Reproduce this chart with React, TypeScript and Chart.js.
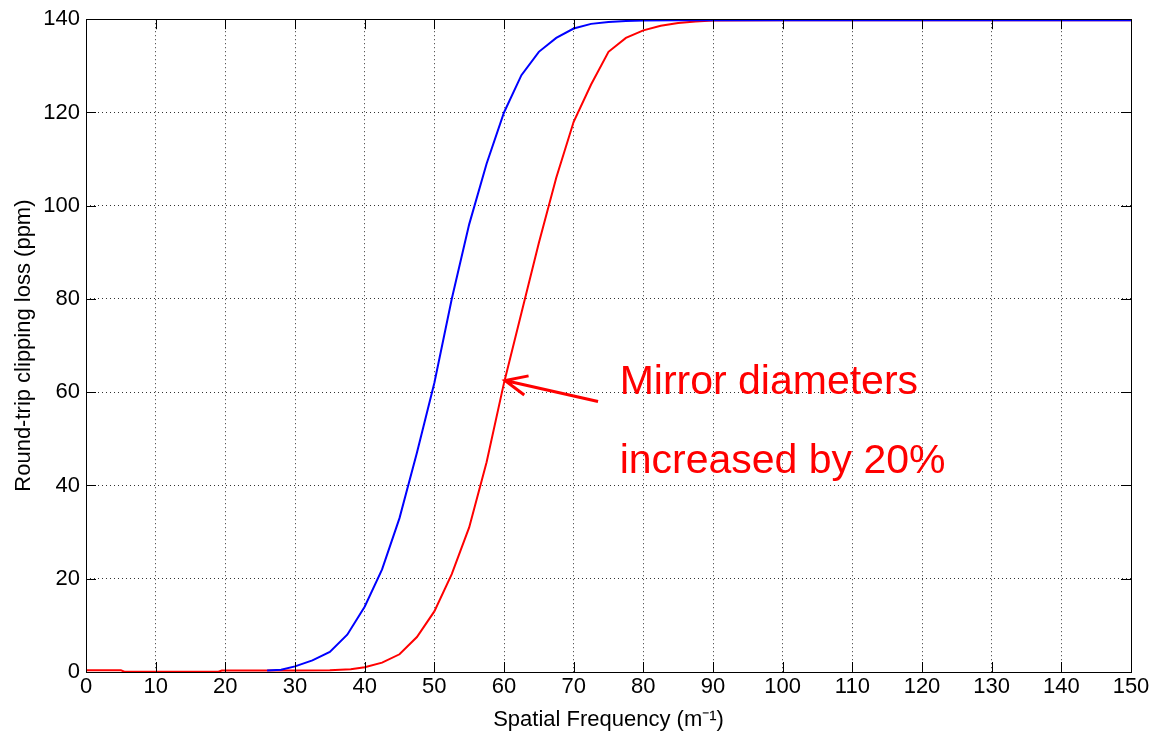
import React, { useEffect, useRef } from "react";
import { Chart, registerables } from "chart.js";

Chart.register(...registerables);

// Blue curve (original mirror diameters)
const blueX = [26, 28, 30, 32.5, 35, 37.5, 40, 42.5, 45, 47.5, 50, 52.5, 55, 57.5, 60, 62.5, 65, 67.5, 70, 72.5, 75, 77.5, 80, 85, 90, 100, 110, 120, 130, 140, 150];
const blueY = [0.3, 0.5, 1.2, 2.5, 4.3, 8, 14, 22, 33, 47, 62, 80, 96, 109, 120, 128, 133, 136, 138, 139, 139.4, 139.6, 139.7, 139.8, 139.8, 139.8, 139.8, 139.8, 139.8, 139.8, 139.8];

// Red curve (mirror diameters increased by 20%)
const redX = [0, 5, 5.5, 10, 15, 19, 19.5, 25, 30, 35, 38, 40, 42.5, 45, 47.5, 50, 52.5, 55, 57.5, 60, 62.5, 65, 67.5, 70, 72.5, 75, 77.5, 80, 82.5, 85, 87.5, 90, 100, 110, 120, 130, 140, 150];
const redY = [0.4, 0.4, 0.05, 0.05, 0.05, 0.05, 0.3, 0.3, 0.3, 0.4, 0.6, 1, 2, 3.8, 7.5, 13, 21, 31, 45, 62, 77, 92, 106, 118, 126, 133, 136, 137.6, 138.6, 139.2, 139.5, 139.7, 139.8, 139.8, 139.8, 139.8, 139.8, 139.8];

const xTickValues = [0, 10, 20, 30, 40, 50, 60, 70, 80, 90, 100, 110, 120, 130, 140, 150];
const yTickValues = [0, 20, 40, 60, 80, 100, 120, 140];

const annotationLines = ["Mirror diameters", "increased by 20%"];
const arrowTip = { x: 60.15, y: 62.5 };
const arrowTail = { x: 73.5, y: 58 };
const textAnchor = { x: 76.6, y1: 59.7, y2: 42.6 };

const FONT = "Arial, 'Liberation Sans', sans-serif";

const boxAndTicks = {
  id: "boxAndTicks",
  afterDraw(chart: any) {
    const { ctx, chartArea: a, scales } = chart;
    const xs = scales.x, ys = scales.y;
    ctx.save();
    ctx.strokeStyle = "#000";
    ctx.lineWidth = 1;
    ctx.setLineDash([]);
    const L = 10;
    ctx.beginPath();
    for (const v of xTickValues) {
      const px = Math.round(xs.getPixelForValue(v)) + 0.5;
      ctx.moveTo(px, a.bottom);
      ctx.lineTo(px, a.bottom - L);
      ctx.moveTo(px, a.top);
      ctx.lineTo(px, a.top + L);
    }
    for (const v of yTickValues) {
      const py = Math.round(ys.getPixelForValue(v)) + 0.5;
      ctx.moveTo(a.left, py);
      ctx.lineTo(a.left + L, py);
      ctx.moveTo(a.right, py);
      ctx.lineTo(a.right - L, py);
    }
    ctx.stroke();
    ctx.strokeRect(Math.round(a.left) + 0.5, Math.round(a.top) + 0.5, Math.round(a.right - a.left), Math.round(a.bottom - a.top));

    // annotation arrow
    const tx = xs.getPixelForValue(arrowTip.x), ty = ys.getPixelForValue(arrowTip.y);
    const sx = xs.getPixelForValue(arrowTail.x), sy = ys.getPixelForValue(arrowTail.y);
    ctx.strokeStyle = "#ff0000";
    ctx.lineWidth = 3;
    ctx.lineCap = "butt";
    ctx.beginPath();
    ctx.moveTo(sx, sy);
    ctx.lineTo(tx, ty);
    const ang = Math.atan2(sy - ty, sx - tx);
    const hl = 24, ha = 0.42;
    ctx.moveTo(tx + hl * Math.cos(ang - ha), ty + hl * Math.sin(ang - ha));
    ctx.lineTo(tx, ty);
    ctx.lineTo(tx + hl * Math.cos(ang + ha), ty + hl * Math.sin(ang + ha));
    ctx.stroke();

    ctx.fillStyle = "#ff0000";
    ctx.font = `41px ${FONT}`;
    ctx.textAlign = "left";
    ctx.textBaseline = "alphabetic";
    const lx = xs.getPixelForValue(textAnchor.x);
    ctx.fillText(annotationLines[0], lx, ys.getPixelForValue(textAnchor.y1));
    ctx.fillText(annotationLines[1], lx, ys.getPixelForValue(textAnchor.y2));
    ctx.restore();
  },
};

export default function App() {
  const ref = useRef<HTMLCanvasElement | null>(null);
  useEffect(() => {
    if (!ref.current) return;
    const toPts = (xs: number[], ys: number[]) => xs.map((x, i) => ({ x, y: ys[i] }));
    const chart = new Chart(ref.current, {
      type: "scatter",
      data: {
        datasets: [
          {
            label: "Original",
            data: toPts(blueX, blueY),
            showLine: true,
            borderColor: "#0000ff",
            backgroundColor: "#0000ff",
            borderWidth: 2,
            pointRadius: 0,
            tension: 0,
          },
          {
            label: "Increased 20%",
            data: toPts(redX, redY),
            showLine: true,
            borderColor: "#ff0000",
            backgroundColor: "#ff0000",
            borderWidth: 2,
            pointRadius: 0,
            tension: 0,
          },
        ],
      },
      options: {
        animation: false,
        responsive: false,
        maintainAspectRatio: false,
        layout: { padding: { top: 18, right: 25, left: 0, bottom: 0 } },
        plugins: { legend: { display: false }, tooltip: { enabled: false }, title: { display: false } },
        scales: {
          x: {
            type: "linear",
            min: 0,
            max: 150,
            afterBuildTicks: (s: any) => { s.ticks = xTickValues.map((v) => ({ value: v })); },
            afterFit: (s: any) => { s.height = 65; },
            ticks: { color: "#000", font: { family: FONT, size: 22 }, padding: 2, maxRotation: 0, autoSkip: false },
            grid: { color: "rgba(0,0,0,0.8)", lineWidth: 1, drawTicks: false },
            border: { display: false, dash: [1, 3] },
            title: { display: true, text: "Spatial Frequency (m\u207B\u00B9)", color: "#000", font: { family: FONT, size: 22 }, padding: { top: 0, bottom: 4 } },
          },
          y: {
            type: "linear",
            min: 0,
            max: 140,
            afterBuildTicks: (s: any) => { s.ticks = yTickValues.map((v) => ({ value: v })); },
            afterFit: (s: any) => { s.width = 86; },
            ticks: { color: "#000", font: { family: FONT, size: 22 }, padding: 6, autoSkip: false },
            grid: { color: "rgba(0,0,0,0.8)", lineWidth: 1, drawTicks: false },
            border: { display: false, dash: [1, 3] },
            title: { display: true, text: "Round-trip clipping loss (ppm)", color: "#000", font: { family: FONT, size: 22 }, padding: { top: 11, bottom: 0 } },
          },
        },
      },
      plugins: [boxAndTicks],
    } as any);
    return () => chart.destroy();
  }, []);
  return (
    <div style={{ position: "fixed", left: 0, top: 0, width: 1156, height: 737, background: "#fff" }}>
      <canvas ref={ref} width={1156} height={737} style={{ display: "block", width: 1156, height: 737 }} />
    </div>
  );
}
